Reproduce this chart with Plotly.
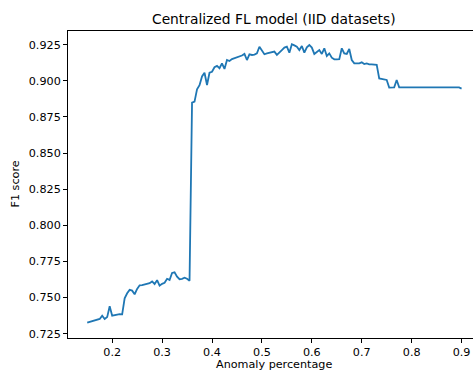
import plotly.graph_objects as go

anomaly_pct = [round(0.15 + 0.005 * i, 3) for i in range(151)]

f1_score = [
    0.7326, 0.7332, 0.7337, 0.7343, 0.7350, 0.7352, 0.7375, 0.7352, 0.7365, 0.7440,
    0.7375, 0.7380, 0.7383, 0.7386, 0.7384, 0.7495, 0.7530, 0.7553, 0.7548, 0.7523,
    0.7560, 0.7585, 0.7586, 0.7592, 0.7598, 0.7600, 0.7612, 0.7594, 0.7620, 0.7582,
    0.7595, 0.7602, 0.7630, 0.7622, 0.7670, 0.7675, 0.7645, 0.7627, 0.7630, 0.7637,
    0.7630, 0.7617, 0.8849, 0.8856, 0.8941, 0.8970, 0.9030, 0.9056, 0.8971, 0.9056,
    0.9063, 0.9094, 0.9103, 0.9087, 0.9121, 0.9082, 0.9144, 0.9137, 0.9150, 0.9156,
    0.9160, 0.9167, 0.9175, 0.9186, 0.9144, 0.9183, 0.9179, 0.9182, 0.9190, 0.9236,
    0.9210, 0.9184, 0.9190, 0.9195, 0.9200, 0.9202, 0.9180, 0.9200, 0.9213, 0.9230,
    0.9236, 0.9195, 0.9253, 0.9245, 0.9236, 0.9213, 0.9241, 0.9195, 0.9232, 0.9248,
    0.9230, 0.9186, 0.9200, 0.9213, 0.9186, 0.9225, 0.9172, 0.9190, 0.9160, 0.9149,
    0.9149, 0.9150, 0.9225, 0.9190, 0.9186, 0.9220, 0.9144, 0.9121, 0.9121, 0.9121,
    0.9128, 0.9116, 0.9120, 0.9114, 0.9114, 0.9112, 0.9110, 0.9017, 0.9013, 0.9010,
    0.9006, 0.8953, 0.8953, 0.8955, 0.9006, 0.8955, 0.8955, 0.8955, 0.8954, 0.8955,
    0.8955, 0.8956, 0.8955, 0.8955, 0.8954, 0.8955, 0.8956, 0.8955, 0.8955, 0.8955,
    0.8955, 0.8954, 0.8955, 0.8955, 0.8955, 0.8954, 0.8955, 0.8953, 0.8955, 0.8954,
    0.8946,
]

x_ticks = [0.2, 0.3, 0.4, 0.5, 0.6, 0.7, 0.8, 0.9]
y_ticks = [0.725, 0.750, 0.775, 0.800, 0.825, 0.850, 0.875, 0.900, 0.925]

title_text = "Centralized FL model (IID datasets)"
x_label = "Anomaly percentage"
y_label = "F1 score"

FONT = "DejaVu Sans"
FS = 11.2
W, H = 473, 372
L, T, B, R = 68, 31, 34, 0
PW, PH = W - L - R, H - T - B

fig = go.Figure()
fig.add_trace(go.Scatter(
    x=anomaly_pct, y=f1_score, mode="lines",
    line=dict(color="#1f77b4", width=1.8),
    hoverinfo="skip", showlegend=False,
))

fig.update_layout(
    width=W, height=H,
    margin=dict(l=L, r=R, t=T, b=B),
    paper_bgcolor="white", plot_bgcolor="white",
    font=dict(family=FONT, size=FS, color="black"),
    xaxis=dict(
        range=[0.1115, 0.9229],
        tickvals=x_ticks, ticktext=[f"{v:.1f}" for v in x_ticks],
        ticks="outside", ticklen=4, tickwidth=1, tickcolor="black",
        showline=True, linecolor="black", linewidth=1, mirror=True,
        showgrid=False, zeroline=False,
        tickfont=dict(family=FONT, size=FS, color="black"),
    ),
    yaxis=dict(
        range=[0.72202, 0.93448],
        tickvals=y_ticks, ticktext=[f"{v:.3f}" for v in y_ticks],
        ticks="outside", ticklen=4, tickwidth=1, tickcolor="black",
        showline=True, linecolor="black", linewidth=1, mirror=False,
        showgrid=False, zeroline=False,
        tickfont=dict(family=FONT, size=FS, color="black"),
    ),
    annotations=[
        dict(text=title_text, xref="paper", yref="paper",
             x=(274 - L) / PW, y=1 + (T - 19) / PH,
             showarrow=False, font=dict(family=FONT, size=13.8, color="black"),
             xanchor="center", yanchor="middle"),
        dict(text=x_label, xref="paper", yref="paper",
             x=(274 - L) / PW, y=-(H - (H - B)) / PH,
             showarrow=False, font=dict(family=FONT, size=FS, color="black"),
             xanchor="center", yanchor="bottom", borderpad=0),
        dict(text=y_label, xref="paper", yref="paper",
             x=-(L - 15) / PW, y=0.5, textangle=-90,
             showarrow=False, font=dict(family=FONT, size=FS, color="black"),
             xanchor="center", yanchor="middle"),
    ],
)

fig.write_html("out.html")
